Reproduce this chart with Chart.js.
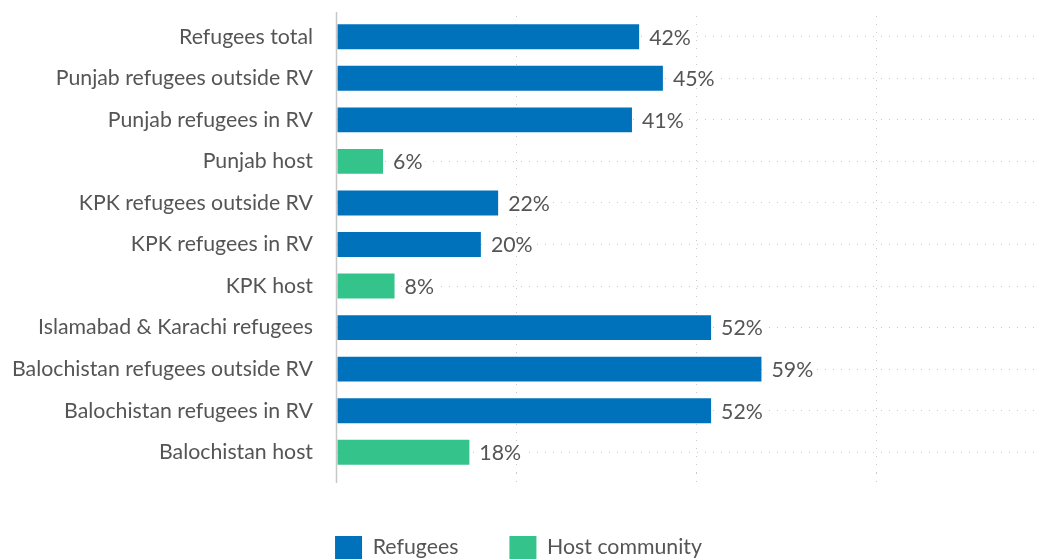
<!DOCTYPE html>
<html>
<head>
<meta charset="utf-8">
<script src="https://cdn.jsdelivr.net/npm/chart.js@4"></script>
<style>
    html, body { margin: 0; padding: 0; background: #fff; }
    #wrap { width: 1042px; height: 560px; position: relative; }
</style>
</head>
<body>
<div id="wrap"><canvas id="barChart"></canvas></div>
<script>
// Chart data (labels show the rounded percentage)
const categories = [
    'Refugees total',
    'Punjab refugees outside RV',
    'Punjab refugees in RV',
    'Punjab host',
    'KPK refugees outside RV',
    'KPK refugees in RV',
    'KPK host',
    'Islamabad & Karachi refugees',
    'Balochistan refugees outside RV',
    'Balochistan refugees in RV',
    'Balochistan host'
];
const refugeeValues = [42, 45.3, 41, null, 22.4, 20, null, 52, 59, 52, null];
const hostValues = [null, null, null, 6.4, null, null, 8, null, null, null, 18.4];
const gridTicks = [25, 50, 75];

const BLUE = '#0072bc';
const GREEN = '#34c38b';
const TEXT = '#555555';
const GRID = '#c8c8c8';
const FONT_SIZE = 21.3;

Chart.defaults.font.family = 'Lato, "Open Sans", sans-serif';
Chart.defaults.color = TEXT;

// Value labels to the right of each bar, on a white patch over the grid dots
const valueLabels = {
    id: 'valueLabels',
    afterDatasetsDraw(chart) {
        const ctx = chart.ctx;
        ctx.save();
        ctx.font = FONT_SIZE + 'px Lato, "Open Sans", sans-serif';
        ctx.textBaseline = 'middle';
        ctx.textAlign = 'left';
        chart.data.datasets.forEach((ds, di) => {
            chart.getDatasetMeta(di).data.forEach((bar, i) => {
                const v = ds.data[i];
                if (v === null || v === undefined) return;
                const text = Math.round(v) + '%';
                const x = bar.x + 10;
                const w = ctx.measureText(text).width;
                ctx.fillStyle = '#fff';
                ctx.fillRect(x - 3, bar.y - 9, w + 6, 18);
                ctx.fillStyle = TEXT;
                ctx.fillText(text, x, bar.y + 1);
            });
        });
        ctx.restore();
    }
};

// Solid axis line at zero, a little longer than the plot area
const zeroLine = {
    id: 'zeroLine',
    afterDatasetsDraw(chart) {
        const {ctx, chartArea, scales} = chart;
        const x = Math.round(scales.x.getPixelForValue(0)) - 0.5;
        ctx.save();
        ctx.strokeStyle = GRID;
        ctx.lineWidth = 1.5;
        ctx.beginPath();
        ctx.moveTo(x, chartArea.top - 4);
        ctx.lineTo(x, chartArea.bottom + 10);
        ctx.stroke();
        ctx.restore();
    }
};

new Chart(document.getElementById('barChart'), {
    type: 'bar',
    data: {
        labels: categories,
        datasets: [
            {
                label: 'Refugees',
                data: refugeeValues,
                backgroundColor: BLUE,
                borderWidth: 0
            },
            {
                label: 'Host community',
                data: hostValues,
                backgroundColor: GREEN,
                borderWidth: 0
            }
        ]
    },
    options: {
        indexAxis: 'y',
        responsive: true,
        maintainAspectRatio: false,
        animation: false,
        grouped: false,
        barPercentage: 0.6,
        categoryPercentage: 1,
        layout: {
            padding: { top: 16, bottom: -9, left: 0, right: 5 }
        },
        plugins: {
            legend: {
                position: 'bottom',
                labels: {
                    boxWidth: 27,
                    boxHeight: 23,
                    padding: 51,
                    color: TEXT,
                    font: { size: FONT_SIZE }
                }
            },
            tooltip: { enabled: false }
        },
        scales: {
            x: {
                min: 0,
                max: 97.3,
                afterBuildTicks(scale) {
                    scale.ticks = [0].concat(gridTicks).map(v => ({ value: v }));
                },
                ticks: { display: false },
                border: { display: false, dash: [1, 7] },
                grid: {
                    color: c => (c.tick && c.tick.value > 0 ? GRID : 'rgba(0,0,0,0)'),
                    tickColor: c => (c.tick && c.tick.value > 0 ? GRID : 'rgba(0,0,0,0)'),
                    tickBorderDash: [1, 7],
                    tickLength: 12,
                    lineWidth: 1
                }
            },
            y: {
                afterFit(scale) {
                    scale.width += 12;
                },
                border: { display: false, dash: [1, 7] },
                grid: {
                    offset: false,
                    color: GRID,
                    drawTicks: true,
                    tickLength: 24,
                    tickColor: 'rgba(0,0,0,0)'
                },
                ticks: {
                    padding: 0,
                    color: TEXT,
                    font: { size: FONT_SIZE }
                }
            }
        }
    },
    plugins: [valueLabels, zeroLine]
});
</script>
</body>
</html>
